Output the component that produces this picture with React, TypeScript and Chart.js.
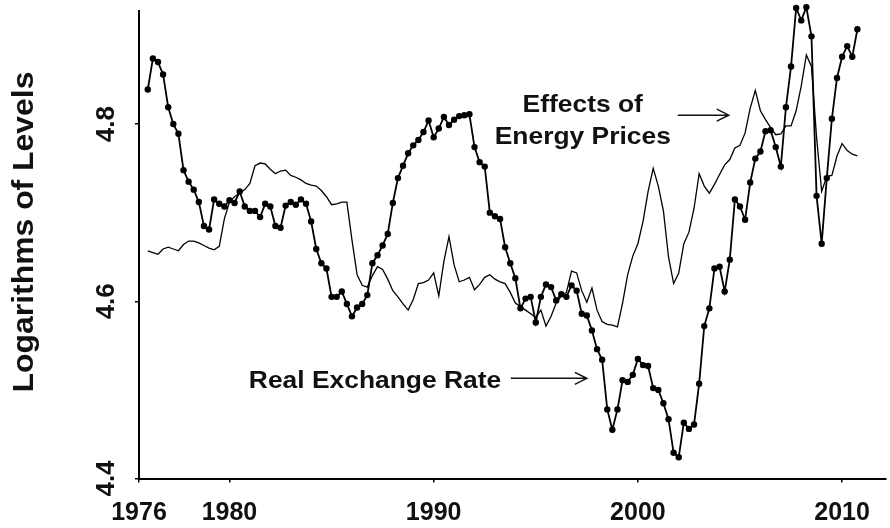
import React, { useEffect, useRef } from "react";
import { Chart, registerables } from "chart.js";

Chart.register(...registerables);

// Quarterly observations, first one is 1976Q1
const START_YEAR = 1976;
const PERIODS_PER_YEAR = 4;

const realExchangeRate = [
  4.839, 4.874, 4.870, 4.856, 4.819, 4.800, 4.789, 4.748, 4.735, 4.726,
  4.712, 4.685, 4.681, 4.715, 4.710, 4.707, 4.714, 4.711, 4.724, 4.707,
  4.702, 4.702, 4.695, 4.710, 4.707, 4.685, 4.683, 4.708, 4.712, 4.709,
  4.715, 4.710, 4.690, 4.659, 4.643, 4.637, 4.605, 4.605, 4.611, 4.597,
  4.583, 4.593, 4.597, 4.607, 4.643, 4.652, 4.663, 4.676, 4.711, 4.739,
  4.753, 4.767, 4.776, 4.782, 4.791, 4.804, 4.785, 4.795, 4.808, 4.799,
  4.805, 4.809, 4.810, 4.811, 4.774, 4.757, 4.752, 4.700, 4.696, 4.693,
  4.661, 4.643, 4.626, 4.592, 4.603, 4.605, 4.576, 4.605, 4.619, 4.616,
  4.601, 4.608, 4.605, 4.618, 4.612, 4.586, 4.584, 4.567, 4.546, 4.534,
  4.478, 4.455, 4.478, 4.511, 4.509, 4.517, 4.535, 4.528, 4.527, 4.502,
  4.500, 4.485, 4.467, 4.429, 4.424, 4.463, 4.456, 4.461, 4.507, 4.572,
  4.592, 4.637, 4.639, 4.611, 4.647, 4.715, 4.707, 4.692, 4.734, 4.761,
  4.769, 4.792, 4.793, 4.774, 4.752, 4.819, 4.865, 4.931, 4.917, 4.932,
  4.899, 4.719, 4.665, 4.739, 4.806, 4.852, 4.876, 4.888, 4.876, 4.907,
];

const energyEffects = [
  4.657, 4.655, 4.653, 4.659, 4.661, 4.659, 4.657, 4.664, 4.668, 4.668,
  4.666, 4.663, 4.660, 4.658, 4.662, 4.693, 4.712, 4.718, 4.722, 4.726,
  4.733, 4.753, 4.756, 4.755, 4.749, 4.744, 4.747, 4.748, 4.742, 4.740,
  4.737, 4.733, 4.731, 4.730, 4.725, 4.718, 4.709, 4.710, 4.712, 4.712,
  4.669, 4.630, 4.618, 4.616, 4.629, 4.639, 4.636, 4.625, 4.612, 4.605,
  4.597, 4.590, 4.602, 4.620, 4.621, 4.624, 4.632, 4.606, 4.645, 4.673,
  4.641, 4.622, 4.624, 4.627, 4.613, 4.619, 4.627, 4.630, 4.625, 4.622,
  4.620, 4.610, 4.598, 4.594, 4.590, 4.586, 4.582, 4.590, 4.572, 4.583,
  4.598, 4.606, 4.610, 4.634, 4.632, 4.612, 4.599, 4.615, 4.590, 4.577,
  4.574, 4.573, 4.571, 4.598, 4.630, 4.651, 4.665, 4.690, 4.724, 4.750,
  4.730, 4.702, 4.650, 4.620, 4.632, 4.665, 4.678, 4.705, 4.744, 4.730,
  4.722, 4.732, 4.743, 4.754, 4.760, 4.773, 4.776, 4.790, 4.818, 4.838,
  4.815, 4.805, 4.796, 4.788, 4.789, 4.798, 4.798, 4.815, 4.843, 4.878,
  4.865, 4.785, 4.724, 4.741, 4.742, 4.764, 4.778, 4.770, 4.766, 4.764,
];

const quarters = realExchangeRate.map((_, i) => START_YEAR + i / PERIODS_PER_YEAR);

const xTickValues = [1975.57, 1980, 1990, 2000, 2010];
const xTickLabels = ["1976", "1980", "1990", "2000", "2010"];
const yTickValues = [4.4, 4.6, 4.8];
const yTickLabels = ["4.4", "4.6", "4.8"];

const yTitle = "Logarithms of Levels";
const energyLabelLines = ["Effects of", "Energy Prices"];
const rerLabel = "Real Exchange Rate";

// arrow tips in data coordinates
const energyArrowTip = { x: 2004.45, y: 4.81 };
const rerArrowTip = { x: 1997.5, y: 4.513 };

const FONT = "'Liberation Sans', Arial, Helvetica, sans-serif";

function drawArrow(ctx: CanvasRenderingContext2D, x1: number, x2: number, y: number) {
  ctx.beginPath();
  ctx.moveTo(x1, y);
  ctx.lineTo(x2, y);
  ctx.moveTo(x2 - 12, y - 6);
  ctx.lineTo(x2, y);
  ctx.lineTo(x2 - 12, y + 6);
  ctx.stroke();
}

const textPlugin = {
  id: "textPlugin",
  afterDraw(chart: any) {
    const ctx: CanvasRenderingContext2D = chart.ctx;
    const xs = chart.scales.x;
    const ys = chart.scales.y;
    ctx.save();
    ctx.fillStyle = "#111";
    ctx.strokeStyle = "#111";

    // y axis title
    ctx.save();
    ctx.translate(33, 232);
    ctx.rotate(-Math.PI / 2);
    ctx.scale(1.1, 1);
    ctx.font = `bold 29px ${FONT}`;
    ctx.textAlign = "center";
    ctx.textBaseline = "alphabetic";
    ctx.fillText(yTitle, 0, 0);
    ctx.restore();

    // y tick labels (rotated)
    ys.ticks.forEach((t: any, i: number) => {
      const py = ys.getPixelForValue(t.value);
      ctx.save();
      ctx.translate(114, py);
      ctx.rotate(-Math.PI / 2);
      ctx.font = `bold 26px ${FONT}`;
      ctx.textAlign = "center";
      ctx.textBaseline = "alphabetic";
      ctx.fillText(yTickLabels[i], 0, 0);
      ctx.restore();
    });

    // energy annotation
    const ex = xs.getPixelForValue(energyArrowTip.x);
    const ey = ys.getPixelForValue(energyArrowTip.y);
    ctx.font = `bold 24px ${FONT}`;
    ctx.textAlign = "center";
    ctx.textBaseline = "alphabetic";
    energyLabelLines.forEach((line, i) => {
      ctx.save();
      ctx.translate(ex - 146, ey - 3 + i * 32);
      ctx.scale(1.1, 1);
      ctx.fillText(line, 0, 0);
      ctx.restore();
    });
    ctx.lineWidth = 1.5;
    drawArrow(ctx, ex - 51, ex, ey);

    // real exchange rate annotation
    const rx = xs.getPixelForValue(rerArrowTip.x);
    const ry = ys.getPixelForValue(rerArrowTip.y);
    ctx.save();
    ctx.translate(rx - 338, ry + 10);
    ctx.scale(1.1, 1);
    ctx.textAlign = "left";
    ctx.fillText(rerLabel, 0, 0);
    ctx.restore();
    drawArrow(ctx, rx - 76, rx, ry);

    ctx.restore();
  },
};

export default function App() {
  const canvasRef = useRef<HTMLCanvasElement | null>(null);

  useEffect(() => {
    if (!canvasRef.current) return;
    const chart = new Chart(canvasRef.current, {
      type: "line",
      data: {
        datasets: [
          {
            label: "Effects of Energy Prices",
            data: quarters.map((q, i) => ({ x: q, y: energyEffects[i] })),
            borderColor: "#000",
            borderWidth: 1.3,
            pointRadius: 0,
            tension: 0,
            clip: false as any,
          },
          {
            label: "Real Exchange Rate",
            data: quarters.map((q, i) => ({ x: q, y: realExchangeRate[i] })),
            borderColor: "#000",
            borderWidth: 1.8,
            pointRadius: 3.2,
            pointBackgroundColor: "#000",
            pointBorderColor: "#000",
            pointBorderWidth: 0,
            tension: 0,
            clip: false as any,
          },
        ],
      },
      options: {
        animation: false,
        responsive: false,
        maintainAspectRatio: false,
        layout: { padding: { top: 11, left: 0, right: 0, bottom: 0 } },
        plugins: {
          legend: { display: false },
          tooltip: { enabled: false },
        },
        scales: {
          x: {
            type: "linear",
            min: 1975.57,
            max: 2012.15,
            afterBuildTicks: (s: any) => {
              s.ticks = xTickValues.map((v) => ({ value: v }));
            },
            afterFit: (s: any) => {
              s.height = 49.5;
            },
            grid: {
              display: true,
              drawOnChartArea: false,
              drawTicks: true,
              tickLength: 4,
              color: "#000",
              lineWidth: 1.5,
            },
            border: { display: true, color: "#000", width: 2 },
            ticks: {
              autoSkip: false,
              maxRotation: 0,
              minRotation: 0,
              padding: 16,
              color: "#111",
              font: { family: FONT, size: 25, weight: "bold" },
              callback: (_v: any, i: number) => xTickLabels[i],
            },
          },
          y: {
            type: "linear",
            min: 4.4,
            max: 4.9276,
            afterBuildTicks: (s: any) => {
              s.ticks = yTickValues.map((v) => ({ value: v }));
            },
            afterFit: (s: any) => {
              s.width = 139;
            },
            grid: {
              display: true,
              drawOnChartArea: false,
              drawTicks: true,
              tickLength: 4,
              color: "#000",
              lineWidth: 1.5,
            },
            border: { display: true, color: "#000", width: 2 },
            ticks: { display: false },
          },
        },
      } as any,
      plugins: [textPlugin],
    });
    return () => chart.destroy();
  }, []);

  return (
    <div
      style={{
        position: "fixed",
        left: 0,
        top: 0,
        width: 890,
        height: 528,
        background: "#fff",
      }}
    >
      <canvas ref={canvasRef} width={890} height={528} />
    </div>
  );
}
